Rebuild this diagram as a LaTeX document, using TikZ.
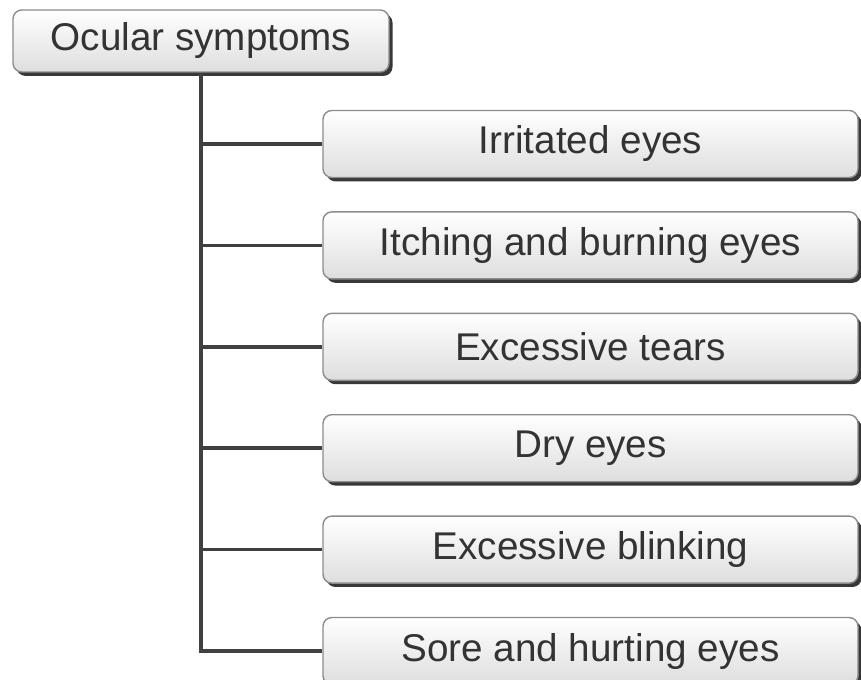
\documentclass[tikz,border=0pt]{standalone}
\usepackage{fontspec}
\setmainfont{Liberation Sans}
\usepackage{tikz}
\usetikzlibrary{positioning,shadows}

\begin{document}
\begin{tikzpicture}[
    node distance=0.66cm,
    every node/.style={font=\fontsize{22}{26}\selectfont, text=black!80},
    box/.style={
        rectangle,
        draw=black!45,
        line width=0.8pt,
        top color=white,
        bottom color=black!13,
        rounded corners=5pt,
        drop shadow={shadow xshift=2pt, shadow yshift=-2.2pt, fill=black!78, opacity=1}
    },
    rootbox/.style={box, minimum width=7.52cm, minimum height=1.24cm},
    leafbox/.style={box, minimum width=10.7cm, minimum height=1.34cm},
    link/.style={line width=2pt, draw=black!75}
]
\useasboundingbox (0,0) rectangle (17.22,-13.6);

% Nodes
\node[rootbox] (ocular) at (4.02,-0.82) {Ocular symptoms};

\node[leafbox] (irritated) at (11.81,-2.88) {Irritated eyes};
\node[leafbox, below=of irritated] (itching) {Itching and burning eyes};
\node[leafbox, below=of itching] (tears) {Excessive tears};
\node[leafbox, below=of tears] (dry) {Dry eyes};
\node[leafbox, below=of dry] (blinking) {Excessive blinking};
\node[leafbox, below=of blinking] (sore) {Sore and hurting eyes};

% Lines
\draw[link] (ocular.south) |- (sore.west);
\foreach \leaf in {irritated, itching, tears, dry, blinking}
    \draw[link] (ocular.south |- \leaf.west) -- (\leaf.west);

\end{tikzpicture}
\end{document}
